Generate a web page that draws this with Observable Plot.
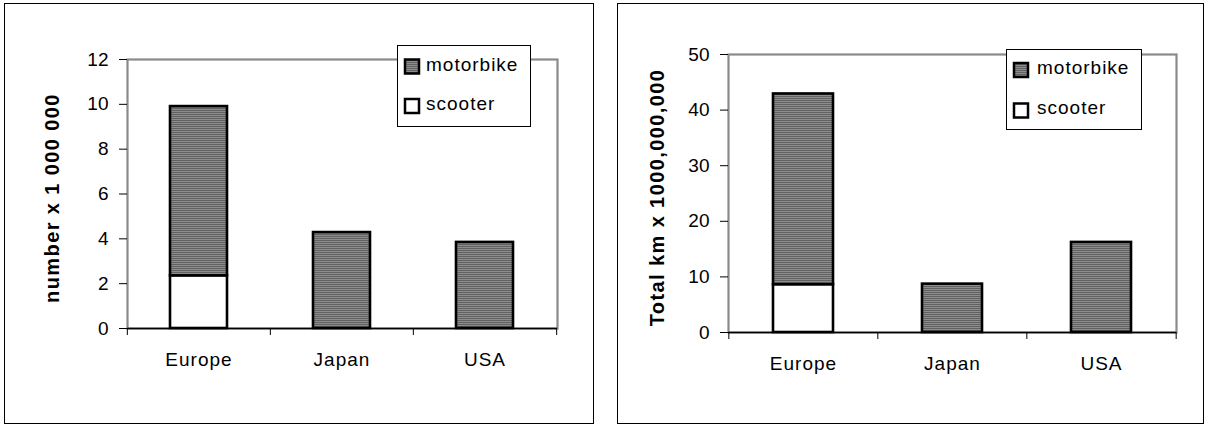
<!DOCTYPE html>
<html><head><meta charset="utf-8">
<script src="https://cdn.jsdelivr.net/npm/d3@7"></script>
<script src="https://cdn.jsdelivr.net/npm/@observablehq/plot@0.6"></script>
<style>
body{margin:0;background:#fff;width:1205px;height:426px;position:relative;overflow:hidden;font-family:"Liberation Sans",Arial,sans-serif;}
.panel{position:absolute;top:0;height:426px;}
.box{position:absolute;border:1.5px solid #000;box-sizing:border-box;pointer-events:none;}
.ytitle text{letter-spacing:1.4px}
.xlab text{letter-spacing:1px}
.leg text{letter-spacing:1px}
</style>
</head><body>
<div id="p1" class="panel" style="left:0;width:600px"></div>
<div id="p2" class="panel" style="left:600px;width:605px"></div>
<div class="box" style="left:4px;top:3px;width:590px;height:421px"></div>
<div class="box" style="left:617px;top:3px;width:587px;height:421px"></div>
<script>
const categories = ["Europe", "Japan", "USA"];
const series = ["scooter", "motorbike"];
const countScooter = [2.35, 0, 0];
const countMotorbike = [7.55, 4.28, 3.84];
const kmScooter = [8.6, 0, 0];
const kmMotorbike = [34.3, 8.7, 16.2];
const countTicks = [0, 2, 4, 6, 8, 10, 12];
const kmTicks = [0, 10, 20, 30, 40, 50];
const countTitle = "number x 1 000 000";
const kmTitle = "Total km x 1000,000,000";
const legendLabels = ["motorbike", "scooter"];

function chart(cfg) {
  const rows = [];
  categories.forEach((c, i) => {
    if (cfg.scooter[i] > 0) rows.push({cat: c, type: "scooter", v: cfg.scooter[i]});
    if (cfg.motorbike[i] > 0) rows.push({cat: c, type: "motorbike", v: cfg.motorbike[i]});
  });
  const m = cfg.margins;
  const step = (cfg.width - m.left - m.right) / categories.length;
  const pid = "stripes-" + cfg.id;
  const svg = Plot.plot({
    width: cfg.width, height: cfg.height,
    marginLeft: m.left, marginRight: m.right, marginTop: m.top, marginBottom: m.bottom,
    style: {background: "transparent", fontFamily: '"Liberation Sans", Arial, sans-serif', fontSize: "19px", color: "#000", overflow: "visible"},
    x: {domain: categories, paddingInner: 0.6, paddingOuter: 0.3, axis: null},
    y: {domain: [0, cfg.ticks[cfg.ticks.length - 1]], axis: null},
    color: {domain: series, range: ["#ffffff", `url(#${pid})`]},
    marks: [
      Plot.frame({stroke: "#8a8a8a", strokeWidth: 2.2}),
      Plot.barY(rows, Plot.stackY({x: "cat", y: "v", fill: "type", order: series, stroke: "#000", strokeWidth: 2.6})),
      Plot.ruleY([0], {stroke: "#000", strokeWidth: 1.3}),
      Plot.axisY({ticks: cfg.ticks, tickSize: 8, tickPadding: 11, fontSize: 19, label: null, tickFormat: d => String(d)}),
      Plot.axisX({ticks: categories, tickSize: 7, text: null, label: null, dx: -step / 2}),
      Plot.axisX({ticks: [categories[categories.length - 1]], tickSize: 7, text: null, label: null, dx: step / 2}),
      Plot.axisX({tickSize: 0, tickPadding: 24, fontSize: 19, label: null, className: "xlab"}),
      Plot.text([cfg.title], {frameAnchor: "left", textAnchor: "middle", rotate: -90, dx: cfg.titleX - m.left, dy: 4, fontWeight: "bold", fontSize: 20, className: "ytitle"})
    ]
  });
  const s = d3.select(svg);
  const defs = s.insert("defs", ":first-child");
  const p = defs.append("pattern").attr("id", pid).attr("patternUnits", "userSpaceOnUse").attr("width", 4).attr("height", 2);
  p.append("rect").attr("width", 4).attr("height", 2).attr("fill", "#8c8c8c");
  p.append("rect").attr("width", 4).attr("height", 1).attr("fill", "#626262");
  // legend
  const L = cfg.legend;
  const g = s.append("g").attr("class", "leg").attr("text-anchor", "start");
  g.append("rect").attr("x", L.x).attr("y", L.y).attr("width", L.w).attr("height", L.h)
    .attr("fill", "#fff").attr("stroke", "#000").attr("stroke-width", 1);
  legendLabels.forEach((lab, i) => {
    const sy = L.swY[i];
    g.append("rect").attr("x", L.swX).attr("y", sy).attr("width", 14).attr("height", 14)
      .attr("fill", lab === "motorbike" ? `url(#${pid})` : "#fff").attr("stroke", "#000").attr("stroke-width", 2.5);
    g.append("text").attr("x", L.textX).attr("y", L.base[i]).attr("font-size", 19).attr("fill", "#000").text(lab);
  });
  return svg;
}

document.getElementById("p1").append(chart({
  id: "a", width: 600, height: 426,
  margins: {left: 127, right: 43, top: 59, bottom: 98},
  scooter: countScooter, motorbike: countMotorbike, ticks: countTicks,
  title: countTitle, titleX: 52,
  legend: {x: 397.5, y: 45.5, w: 133, h: 81, swX: 405, swY: [59.5, 99], textX: 426, base: [70.5, 110]}
}));
document.getElementById("p2").append(chart({
  id: "b", width: 605, height: 426,
  margins: {left: 128, right: 29, top: 54, bottom: 94},
  scooter: kmScooter, motorbike: kmMotorbike, ticks: kmTicks,
  title: kmTitle, titleX: 57,
  legend: {x: 406.5, y: 49.5, w: 135, h: 80, swX: 414, swY: [63, 103.5], textX: 437, base: [74, 114]}
}));
</script>
</body></html>
